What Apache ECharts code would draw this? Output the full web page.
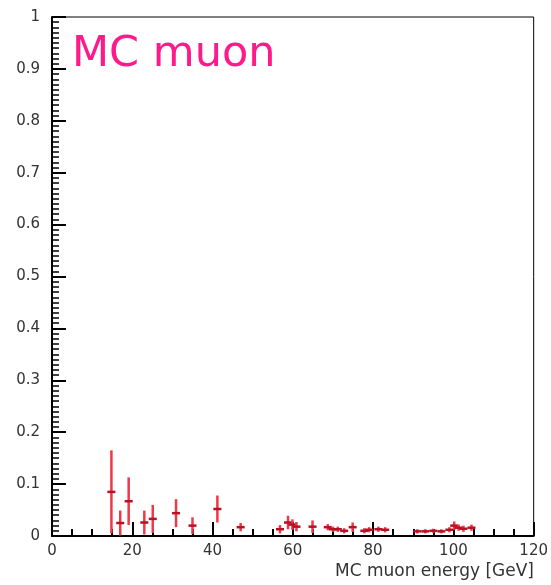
<!DOCTYPE html>
<html><head><meta charset="utf-8">
<script src="https://cdn.jsdelivr.net/npm/echarts@6/dist/echarts.min.js"></script>
<style>html,body{margin:0;padding:0;background:#fff}#c{width:551px;height:585px}</style>
</head><body><div id="c"></div>
<script>
const xVals = [14.8,17.0,19.1,23.0,25.1,30.9,35.0,41.2,47.0,56.8,58.8,59.9,60.9,64.9,68.7,70.0,71.2,72.8,74.9,77.8,79.0,81.3,83.0,91.0,93.0,95.0,97.0,99.0,100.2,101.3,102.5,104.5];
const yVals = [0.085,0.025,0.067,0.026,0.033,0.044,0.020,0.052,0.017,0.013,0.026,0.022,0.018,0.018,0.017,0.013,0.013,0.010,0.017,0.010,0.012,0.013,0.012,0.009,0.009,0.010,0.009,0.012,0.020,0.016,0.014,0.016];
const yErrs = [0.080,0.024,0.046,0.023,0.027,0.027,0.016,0.026,0.008,0.008,0.013,0.010,0.009,0.012,0.006,0.005,0.005,0.005,0.009,0.005,0.005,0.005,0.005,0.004,0.004,0.004,0.004,0.005,0.008,0.006,0.006,0.006];
const xHalfWidth = 1.0;
const titleText = 'MC muon';
const xAxisTitle = 'MC muon energy [GeV]';

const data = xVals.map((x,i)=>[x,yVals[i],yErrs[i]]);
const chart = echarts.init(document.getElementById('c'));
const labelStyle = {color:'#333', fontSize:15, fontFamily:'DejaVu Sans'};
chart.setOption({
  animation:false,
  title:[
    {text:titleText,left:67,top:28,textStyle:{color:'#ff1a8c',fontSize:43,fontWeight:'normal',fontFamily:'DejaVu Sans'}},
    {text:xAxisTitle,right:12,bottom:0,textStyle:{color:'#333',fontSize:17,fontWeight:'normal',fontFamily:'DejaVu Sans'}}
  ],
  grid:{left:52,right:14,top:17,bottom:49,show:true,borderColor:'#000',borderWidth:1},
  xAxis:{type:'value',min:0,max:120,interval:20,
    axisLine:{onZero:false,lineStyle:{color:'#000',width:2}},
    axisTick:{inside:true,length:14,lineStyle:{color:'#000',width:2}},
    minorTick:{show:true,splitNumber:4,length:7,lineStyle:{color:'#000',width:2}},
    splitLine:{show:false},
    axisLabel:Object.assign({margin:8},labelStyle)},
  yAxis:{type:'value',min:0,max:1,interval:0.1,
    axisLine:{onZero:false,lineStyle:{color:'#000',width:2}},
    axisTick:{inside:true,length:14,lineStyle:{color:'#000',width:2}},
    minorTick:{show:true,splitNumber:10,length:7,lineStyle:{color:'#000',width:1.5}},
    splitLine:{show:false},
    axisLabel:Object.assign({margin:12},labelStyle)},
  series:[{
    type:'custom',
    data:data,
    renderItem:function(params,api){
      const x=api.value(0), y=api.value(1), e=api.value(2);
      const lo=Math.max(0,y-e), hi=y+e;
      const pLo=api.coord([x,lo]), pHi=api.coord([x,hi]);
      const pL=api.coord([x-xHalfWidth,y]), pR=api.coord([x+xHalfWidth,y]);
      return {type:'group',children:[
        {type:'line',shape:{x1:pLo[0],y1:pLo[1],x2:pHi[0],y2:pHi[1]},style:{stroke:'#ef3848',lineWidth:2.5}},
        {type:'line',shape:{x1:pL[0],y1:pL[1],x2:pR[0],y2:pR[1]},style:{stroke:'#b81024',lineWidth:2.5}}
      ]};
    }
  }]
});
</script></body></html>
